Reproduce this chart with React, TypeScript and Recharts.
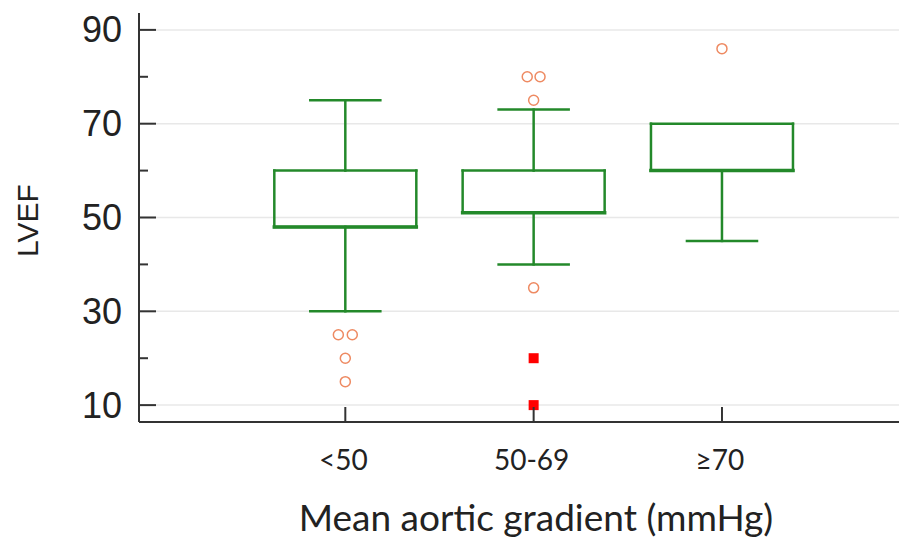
import { ComposedChart, XAxis, YAxis, ReferenceLine, Scatter } from "recharts";

const categories = ["<50", "50-69", "≥70"];
const mins = [30, 40, 45];
const q1s = [48, 51, 60];
const medians = [48, 51, 60];
const q3s = [60, 60, 70];
const maxs = [75, 73, 70];

const outlierCircles = [
  { x: 0.963, y: 25 },
  { x: 1.037, y: 25 },
  { x: 1, y: 20 },
  { x: 1, y: 15 },
  { x: 1.966, y: 80 },
  { x: 2.034, y: 80 },
  { x: 2, y: 75 },
  { x: 2, y: 35 },
  { x: 3, y: 86 },
];
const extremeSquares = [
  { x: 2, y: 20 },
  { x: 2, y: 10 },
];

const yTicks = [10, 20, 30, 40, 50, 60, 70, 80, 90];
const yMajor = [10, 30, 50, 70, 90];
const xTicks = [1, 2, 3];

const GREEN = "#23892a";
const AXIS = "#333";
const BOX_HALF = 0.377;
const CAP_HALF = 0.186;

function YTick(props: any) {
  const { x, y, payload } = props;
  const major = yMajor.includes(payload.value);
  return (
    <g>
      <line x1={x} x2={x + (major ? 17 : 9)} y1={y} y2={y} stroke={AXIS} strokeWidth={2} />
      {major && (
        <text x={x - 17} y={y} textAnchor="end" dominantBaseline="central" fontFamily="Liberation Sans" fontSize={36} fill="#222">
          {payload.value}
        </text>
      )}
    </g>
  );
}

function XTick(props: any) {
  const { x, y, payload } = props;
  return (
    <g>
      <line x1={x} x2={x} y1={y} y2={y - 15} stroke={AXIS} strokeWidth={2} />
      <text x={x - 2} y={y + 37} textAnchor="middle" dominantBaseline="central" fontFamily="Lato" fontSize={28} fill="#222">
        {categories[payload.value - 1]}
      </text>
    </g>
  );
}

function YLabel(props: any) {
  const { viewBox } = props;
  const cx = viewBox.x + 27;
  const cy = viewBox.y + viewBox.height / 2 + 3;
  return (
    <text x={cx} y={cy} transform={`rotate(-90 ${cx} ${cy})`} textAnchor="middle" dominantBaseline="central" fontFamily="Liberation Sans" fontSize={30} fill="#222">
      LVEF
    </text>
  );
}

function XLabel(props: any) {
  const { viewBox } = props;
  const cx = viewBox.x + viewBox.width / 2 + 17;
  return (
    <text x={cx} y={viewBox.y + 109} textAnchor="middle" fontFamily="Lato" fontSize={37} fill="#222">
      Mean aortic gradient (mmHg)
    </text>
  );
}

const circleShape = (p: any) => <circle cx={p.cx} cy={p.cy} r={5} fill="#fff" stroke="#ee8a62" strokeWidth={1.5} />;
const squareShape = (p: any) => <rect x={p.cx - 5} y={p.cy - 5} width={10} height={10} fill="#ff0000" />;

function seg(key: string, x1: number, y1: number, x2: number, y2: number, w = 2.5) {
  return (
    <ReferenceLine
      key={key}
      segment={[{ x: x1, y: y1 }, { x: x2, y: y2 }]}
      stroke={GREEN}
      strokeWidth={w}
      strokeLinecap="square"
    />
  );
}

export default function App() {
  return (
    <div style={{ width: 899, height: 543, background: "#fff" }}>
      <style>{"body{margin:0}"}</style>
      <ComposedChart width={899} height={543} margin={{ top: 13, right: 0, bottom: 0, left: 0 }}>
        <XAxis
          type="number"
          dataKey="x"
          domain={[-0.0955, 3.94]}
          ticks={xTicks}
          tick={<XTick />}
          tickSize={0}
          tickMargin={0}
          height={121}
          stroke={AXIS}
          strokeWidth={2}
          allowDataOverflow
          label={<XLabel />}
        />
        <YAxis
          type="number"
          dataKey="y"
          domain={[6.4, 93.6]}
          ticks={yTicks}
          tick={<YTick />}
          tickSize={0}
          tickMargin={0}
          width={139}
          stroke={AXIS}
          strokeWidth={2}
          allowDataOverflow
          interval={0}
          label={<YLabel />}
        />
        {yMajor.map((v) => (
          <ReferenceLine key={`g${v}`} y={v} stroke="#e8e8e8" strokeWidth={1.5} />
        ))}
        {categories.map((c, i) => {
          const x = i + 1;
          const l = x - BOX_HALF;
          const r = x + BOX_HALF;
          return [
            seg(`wl${c}`, x, mins[i], x, q1s[i]),
            maxs[i] > q3s[i] ? seg(`wh${c}`, x, q3s[i], x, maxs[i]) : null,
            seg(`cl${c}`, x - CAP_HALF, mins[i], x + CAP_HALF, mins[i]),
            maxs[i] > q3s[i] ? seg(`ch${c}`, x - CAP_HALF, maxs[i], x + CAP_HALF, maxs[i]) : null,
            seg(`bt${c}`, l, q3s[i], r, q3s[i]),
            seg(`bb${c}`, l, q1s[i], r, q1s[i]),
            seg(`bl${c}`, l, q1s[i], l, q3s[i]),
            seg(`br${c}`, r, q1s[i], r, q3s[i]),
            seg(`m${c}`, l, medians[i], r, medians[i], 3.5),
          ];
        })}
        <Scatter data={outlierCircles} shape={circleShape} isAnimationActive={false} />
        <Scatter data={extremeSquares} shape={squareShape} isAnimationActive={false} />
      </ComposedChart>
    </div>
  );
}
